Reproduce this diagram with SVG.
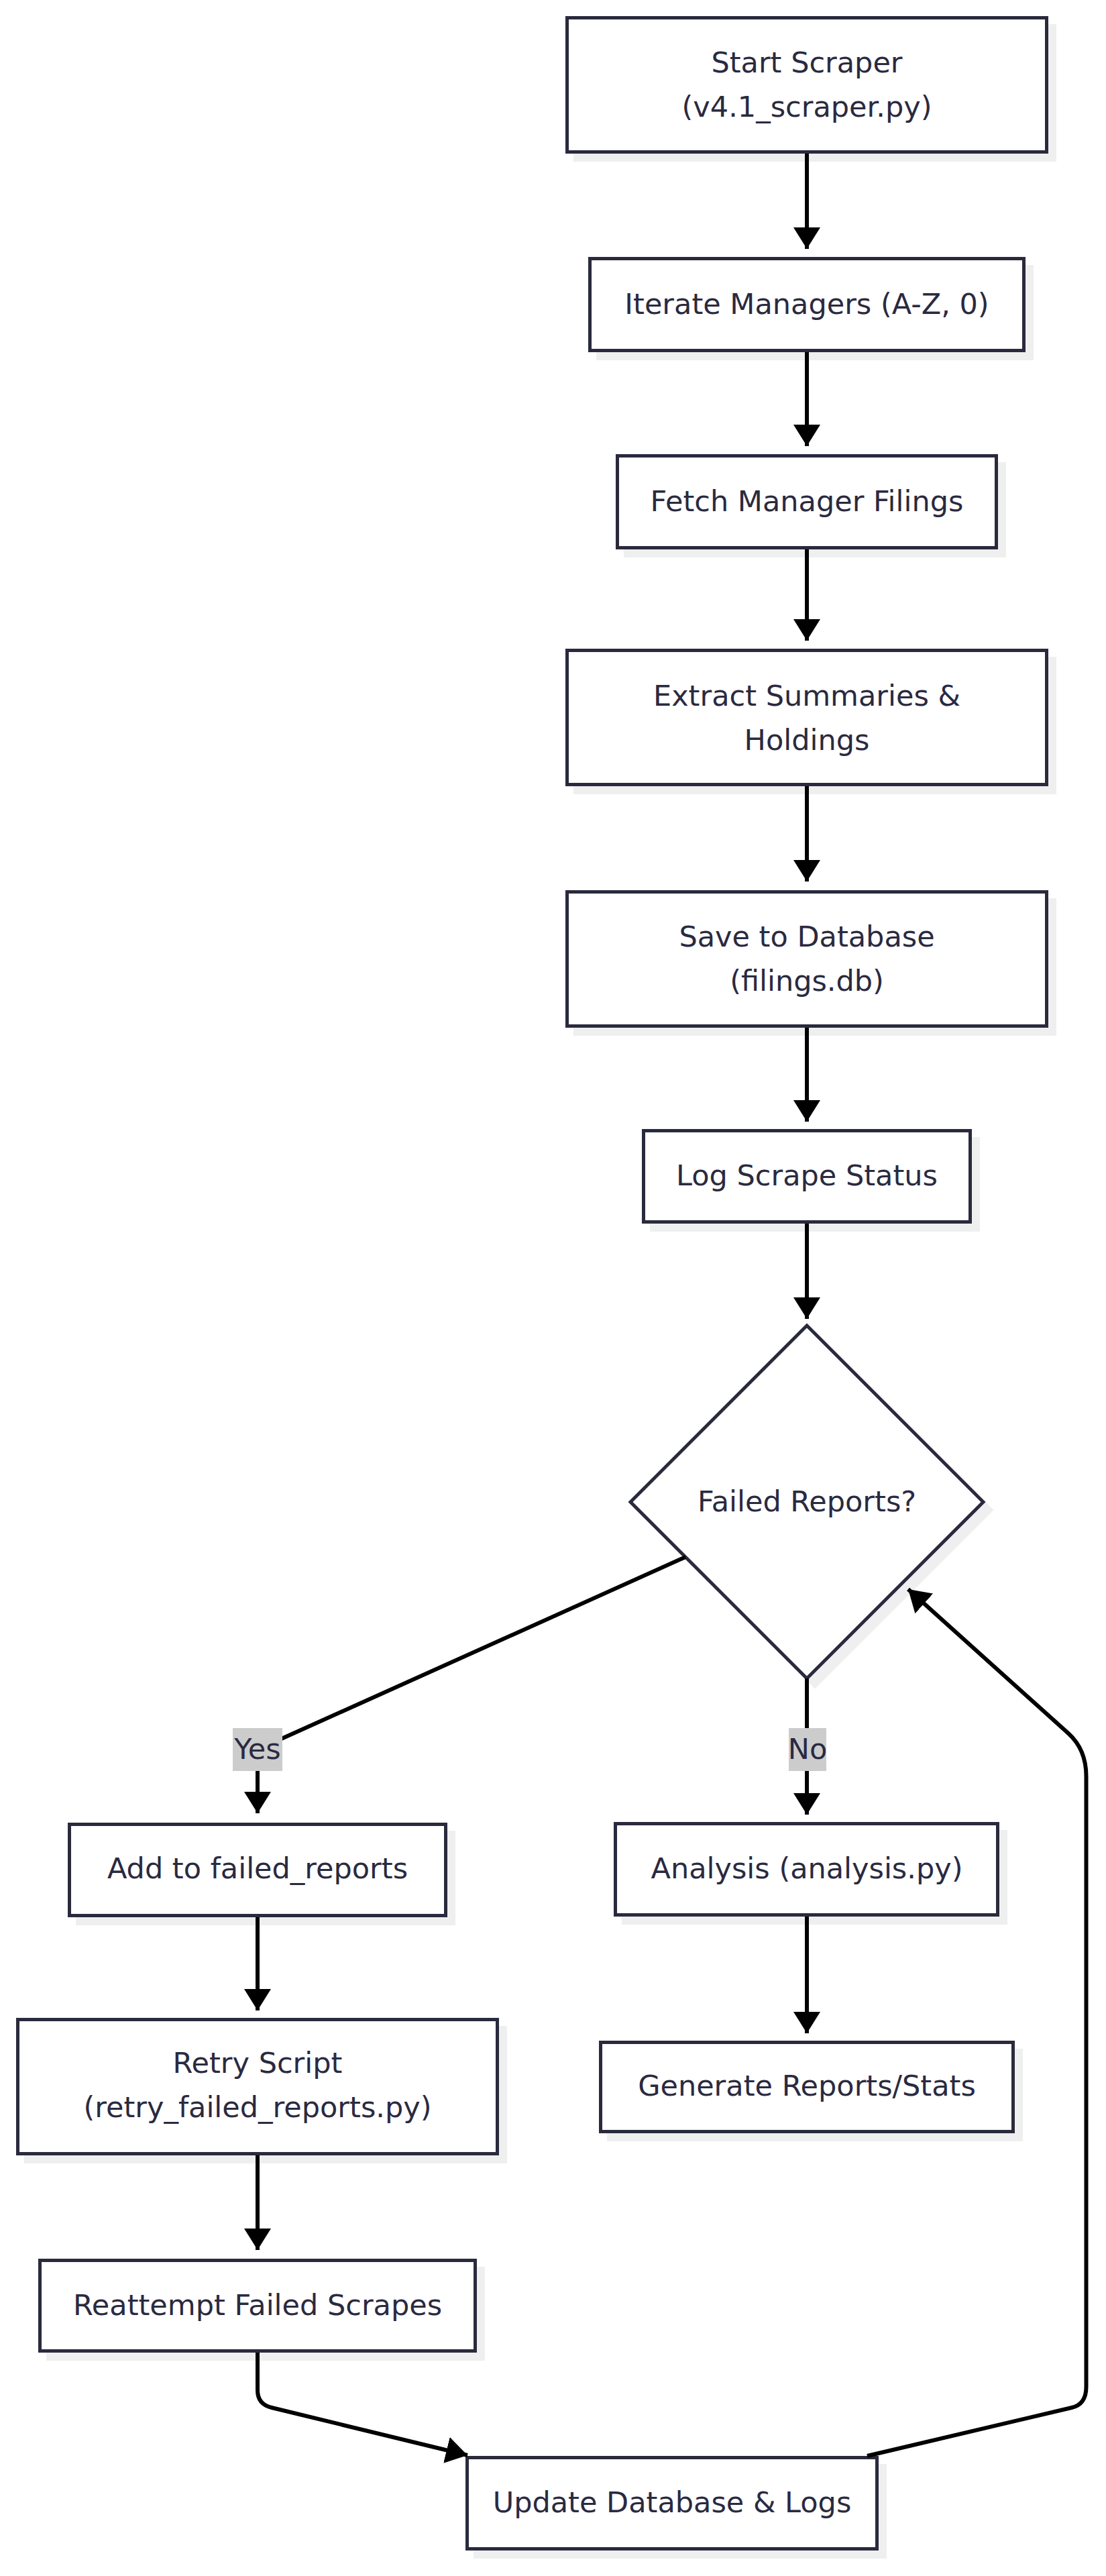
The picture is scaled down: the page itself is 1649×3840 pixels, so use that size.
<svg xmlns="http://www.w3.org/2000/svg" width="1649" height="3840" viewBox="0 0 1649 3840">
<style>
.bg{fill:#ffffff}
.box{fill:#ffffff;stroke:#2a2a3e;stroke-width:5}
.shadow{fill:#efefef;stroke:#efefef;stroke-width:5}
.lbl{font-family:"DejaVu Sans","Liberation Sans",sans-serif;font-size:43px;fill:#2a2a40;text-anchor:middle}
.edge{fill:none;stroke:#000000;stroke-width:6}
.elbg{fill:#cccccc}
</style>
<defs>
<marker id="arrow" markerUnits="userSpaceOnUse" markerWidth="34" markerHeight="42" refX="32" refY="20" orient="auto">
<path d="M0,0 L32,20 L0,40 Z" fill="#000000"/>
</marker>
</defs>
<rect class="bg" x="0" y="0" width="1649" height="3840"/>

<g id="start">
<rect class="shadow" x="857.5" y="38.5" width="715" height="200"/>
<rect class="box" x="845.5" y="26.5" width="715" height="200"/>
<text class="lbl" x="1203" y="108">Start Scraper</text>
<text class="lbl" x="1203" y="174">(v4.1_scraper.py)</text>
</g>

<g id="iterate">
<rect class="shadow" x="891.5" y="397.5" width="647" height="137"/>
<rect class="box" x="879.5" y="385.5" width="647" height="137"/>
<text class="lbl" x="1203" y="468">Iterate Managers (A-Z, 0)</text>
</g>

<g id="fetch">
<rect class="shadow" x="932.5" y="691.5" width="565" height="137"/>
<rect class="box" x="920.5" y="679.5" width="565" height="137"/>
<text class="lbl" x="1203" y="762">Fetch Manager Filings</text>
</g>

<g id="extract">
<rect class="shadow" x="857.5" y="981.5" width="715" height="200"/>
<rect class="box" x="845.5" y="969.5" width="715" height="200"/>
<text class="lbl" x="1203" y="1052">Extract Summaries &amp;</text>
<text class="lbl" x="1203" y="1118">Holdings</text>
</g>

<g id="save">
<rect class="shadow" x="857.5" y="1341.5" width="715" height="200"/>
<rect class="box" x="845.5" y="1329.5" width="715" height="200"/>
<text class="lbl" x="1203" y="1411">Save to Database</text>
<text class="lbl" x="1203" y="1477">(filings.db)</text>
</g>

<g id="log">
<rect class="shadow" x="971.5" y="1697.5" width="487" height="136"/>
<rect class="box" x="959.5" y="1685.5" width="487" height="136"/>
<text class="lbl" x="1203" y="1767">Log Scrape Status</text>
</g>

<g id="decision">
<polygon class="shadow" points="1215,1988 1478,2251 1215,2514 952,2251"/>
<polygon class="box" points="1203,1976 1466,2239 1203,2502 940,2239"/>
<text class="lbl" x="1203" y="2253">Failed Reports?</text>
</g>

<g id="add-failed">
<rect class="shadow" x="115.5" y="2731.5" width="561" height="136"/>
<rect class="box" x="103.5" y="2719.5" width="561" height="136"/>
<text class="lbl" x="384" y="2800">Add to failed_reports</text>
</g>

<g id="analysis">
<rect class="shadow" x="929.5" y="2730.5" width="570" height="136"/>
<rect class="box" x="917.5" y="2718.5" width="570" height="136"/>
<text class="lbl" x="1203" y="2800">Analysis (analysis.py)</text>
</g>

<g id="retry">
<rect class="shadow" x="38.5" y="3022.5" width="715" height="200"/>
<rect class="box" x="26.5" y="3010.5" width="715" height="200"/>
<text class="lbl" x="384" y="3090">Retry Script</text>
<text class="lbl" x="384" y="3156">(retry_failed_reports.py)</text>
</g>

<g id="generate">
<rect class="shadow" x="907.5" y="3056.5" width="615" height="133"/>
<rect class="box" x="895.5" y="3044.5" width="615" height="133"/>
<text class="lbl" x="1203" y="3124">Generate Reports/Stats</text>
</g>

<g id="reattempt">
<rect class="shadow" x="71.5" y="3381.5" width="649" height="135"/>
<rect class="box" x="59.5" y="3369.5" width="649" height="135"/>
<text class="lbl" x="384" y="3451">Reattempt Failed Scrapes</text>
</g>

<g id="update">
<rect class="shadow" x="708.5" y="3675.5" width="611" height="136"/>
<rect class="box" x="696.5" y="3663.5" width="611" height="136"/>
<text class="lbl" x="1002" y="3745">Update Database &amp; Logs</text>
</g>

<g id="connectors">
<path class="edge" d="M1203,229 L1203,371" marker-end="url(#arrow)"/>
<path class="edge" d="M1203,525 L1203,665" marker-end="url(#arrow)"/>
<path class="edge" d="M1203,819 L1203,955" marker-end="url(#arrow)"/>
<path class="edge" d="M1203,1172 L1203,1314" marker-end="url(#arrow)"/>
<path class="edge" d="M1203,1532 L1203,1672" marker-end="url(#arrow)"/>
<path class="edge" d="M1203,1824 L1203,1966" marker-end="url(#arrow)"/>
<path class="edge" d="M1022,2321 L384,2608 L384,2703" marker-end="url(#arrow)"/>
<path class="edge" d="M1203,2502 L1203,2705" marker-end="url(#arrow)"/>
<path class="edge" d="M384,2858 L384,2997" marker-end="url(#arrow)"/>
<path class="edge" d="M1203,2857 L1203,3031" marker-end="url(#arrow)"/>
<path class="edge" d="M384,3213 L384,3354" marker-end="url(#arrow)"/>
<path class="edge" d="M384,3507 L384,3563 Q384,3584 405,3589 L697,3660" marker-end="url(#arrow)"/>
<path class="edge" d="M1293,3661 L1598,3589 Q1619.5,3584 1619.5,3558 L1619.5,2648 Q1619.5,2608 1593,2584 L1354,2369" marker-end="url(#arrow)"/>
<g id="label-yes">
<rect class="elbg" x="347" y="2576" width="74" height="64"/>
<text class="lbl" x="384" y="2622">Yes</text>
</g>
<g id="label-no">
<rect class="elbg" x="1176" y="2576" width="56" height="64"/>
<text class="lbl" x="1204" y="2622">No</text>
</g>
</g>
</svg>
